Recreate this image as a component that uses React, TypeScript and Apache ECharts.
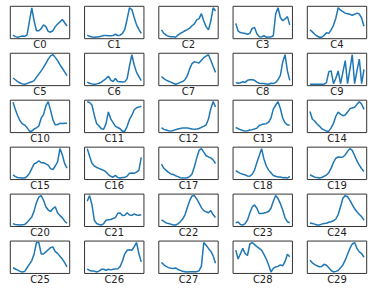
import React, { useEffect, useRef } from "react";
import * as echarts from "echarts";

// Hour-of-day style profiles, 24 points each (normalised)
const hours = Array.from({ length: 24 }, (_, i) => i);
const panelNames = Array.from({ length: 30 }, (_, i) => "C" + i);

const c0 = [0.07, 0.02, 0.0, 0.02, 0.04, 0.03, 0.08, 0.55, 1.0, 0.55, 0.22, 0.22, 0.29, 0.42, 0.36, 0.2, 0.17, 0.22, 0.36, 0.45, 0.52, 0.6, 0.49, 0.38];
const c1 = [0.07, 0.03, 0.01, 0.0, 0.01, 0.02, 0.03, 0.06, 0.06, 0.05, 0.05, 0.06, 0.1, 0.06, 0.07, 0.13, 0.27, 0.62, 1.0, 0.94, 0.67, 0.42, 0.27, 0.13];
const c2 = [0.25, 0.13, 0.07, 0.03, 0.02, 0.02, 0.0, 0.07, 0.13, 0.17, 0.22, 0.26, 0.31, 0.39, 0.45, 0.59, 0.63, 0.8, 0.55, 0.36, 0.25, 0.55, 1.0, 0.89];
const c3 = [0.47, 0.21, 0.16, 0.14, 0.13, 0.1, 0.13, 0.3, 0.33, 0.12, 0.02, 0.01, 0.05, 0.0, 0.01, 0.01, 0.05, 0.79, 1.0, 0.67, 0.56, 0.62, 0.7, 0.42];
const c4 = [0.26, 0.19, 0.11, 0.05, 0.01, 0.01, 0.07, 0.16, 0.14, 0.26, 0.41, 0.65, 1.0, 0.92, 0.87, 0.82, 0.8, 0.78, 0.75, 0.78, 0.82, 0.79, 0.65, 0.38];
const c5 = [0.21, 0.15, 0.09, 0.04, 0.01, 0.0, 0.02, 0.06, 0.08, 0.12, 0.24, 0.34, 0.45, 0.57, 0.71, 0.85, 0.96, 1.0, 0.91, 0.8, 0.66, 0.54, 0.42, 0.29];
const c6 = [0.07, 0.03, 0.01, 0.0, 0.01, 0.03, 0.07, 0.13, 0.19, 0.27, 0.14, 0.09, 0.19, 0.09, 0.08, 0.07, 0.08, 0.19, 0.62, 1.0, 0.65, 0.4, 0.26, 0.12];
const c7 = [0.26, 0.19, 0.14, 0.1, 0.07, 0.03, 0.0, 0.02, 0.06, 0.09, 0.15, 0.29, 0.52, 0.7, 0.76, 0.74, 0.72, 0.81, 0.9, 0.95, 1.0, 0.81, 0.6, 0.4];
const c8 = [0.06, 0.03, 0.05, 0.08, 0.06, 0.13, 0.15, 0.15, 0.13, 0.07, 0.03, 0.02, 0.02, 0.01, 0.0, 0.03, 0.02, 0.06, 0.15, 0.3, 0.75, 1.0, 0.45, 0.13];
const c9 = [0, 0, 0, 0, 0, 0, 0, 0.05, 0.42, 0.45, 0.02, 0.2, 0.45, 0.02, 0.4, 0.8, 0.02, 0.5, 1.0, 0.02, 0.45, 0.85, 0.02, 0.5];
const c10 = [0.98, 0.74, 0.53, 0.36, 0.26, 0.22, 0.13, 0.02, 0.02, 0.09, 0.13, 0.19, 0.45, 0.57, 0.86, 1.0, 0.71, 0.4, 0.23, 0.24, 0.28, 0.27, 0.28, 0.28];
const c11 = [1.0, 0.97, 0.89, 0.55, 0.27, 0.2, 0.1, 0.08, 0.27, 0.66, 0.43, 0.3, 0.18, 0.14, 0.1, 0.02, 0.02, 0.18, 0.41, 0.55, 0.73, 0.8, 0.82, 0.85];
const c12 = [0.12, 0.06, 0.04, 0.01, 0.0, 0.02, 0.05, 0.07, 0.09, 0.11, 0.11, 0.11, 0.09, 0.07, 0.06, 0.07, 0.09, 0.13, 0.16, 0.21, 0.41, 0.76, 1.0, 0.82];
const c13 = [0.14, 0.09, 0.06, 0.03, 0.01, 0.02, 0.05, 0.06, 0.08, 0.11, 0.2, 0.23, 0.25, 0.26, 0.31, 0.45, 0.75, 0.88, 1.0, 0.77, 0.45, 0.29, 0.22, 0.22];
const c14 = [0.67, 0.41, 0.35, 0.25, 0.18, 0.09, 0.05, 0.01, 0.01, 0.12, 0.27, 0.51, 0.65, 0.58, 0.53, 0.55, 0.65, 0.76, 0.79, 0.81, 0.91, 1.0, 0.91, 0.74];
const c15 = [0.11, 0.05, 0.02, 0.01, 0.0, 0.0, 0.06, 0.16, 0.32, 0.48, 0.52, 0.59, 0.52, 0.52, 0.48, 0.44, 0.32, 0.29, 0.41, 0.55, 1.0, 0.79, 0.49, 0.34];
const c16 = [1.0, 0.74, 0.5, 0.41, 0.36, 0.33, 0.29, 0.26, 0.21, 0.12, 0.06, 0.03, 0.09, 0.02, 0.0, 0.02, 0.02, 0.07, 0.16, 0.17, 0.16, 0.2, 0.26, 0.7];
const c17 = [0.47, 0.33, 0.26, 0.19, 0.14, 0.12, 0.08, 0.05, 0.01, 0.0, 0.0, 0.01, 0.05, 0.14, 0.38, 0.67, 0.93, 0.99, 0.87, 0.75, 0.71, 0.68, 0.61, 0.49];
const c18 = [0.25, 0.2, 0.16, 0.13, 0.11, 0.07, 0.06, 0.13, 0.27, 0.53, 0.76, 1.0, 0.65, 0.41, 0.27, 0.18, 0.09, 0.06, 0.04, 0.04, 0.01, 0.02, 0.0, 0.06];
const c19 = [0.11, 0.07, 0.03, 0.02, 0.0, 0.02, 0.06, 0.1, 0.18, 0.33, 0.52, 0.66, 0.7, 0.69, 0.7, 0.77, 0.89, 0.98, 0.92, 0.75, 0.57, 0.43, 0.31, 0.22];
const c20 = [0.04, 0.02, 0.01, 0.0, 0.01, 0.02, 0.09, 0.18, 0.27, 0.48, 0.76, 0.95, 1.0, 0.84, 0.62, 0.51, 0.46, 0.56, 0.62, 0.41, 0.32, 0.25, 0.13, 0.06];
const c21 = [0.81, 1.0, 0.69, 0.17, 0.05, 0.02, 0.0, 0.05, 0.16, 0.18, 0.19, 0.22, 0.25, 0.4, 0.41, 0.32, 0.33, 0.42, 0.34, 0.33, 0.38, 0.34, 0.33, 0.35];
const c22 = [0.18, 0.13, 0.08, 0.06, 0.04, 0.01, 0.01, 0.05, 0.12, 0.21, 0.35, 0.59, 0.82, 0.98, 0.99, 0.88, 0.74, 0.59, 0.49, 0.45, 0.42, 0.49, 0.35, 0.26];
const c23 = [0.07, 0.1, 0.02, 0.0, 0.05, 0.17, 0.4, 0.6, 0.67, 0.56, 0.38, 0.38, 0.4, 0.42, 0.45, 0.56, 0.79, 0.98, 0.88, 0.71, 0.5, 0.24, 0.11, 0.07];
const c24 = [0.08, 0.06, 0.04, 0.01, 0.01, 0.04, 0.06, 0.07, 0.1, 0.12, 0.15, 0.21, 0.36, 0.62, 0.9, 0.99, 0.95, 0.83, 0.69, 0.55, 0.45, 0.36, 0.29, 0.17];
const c25 = [0.14, 0.1, 0.06, 0.02, 0.0, 0.02, 0.14, 0.26, 0.38, 0.6, 0.98, 0.98, 0.6, 0.6, 0.67, 0.74, 0.81, 0.83, 0.68, 0.62, 0.52, 0.43, 0.31, 0.17];
const c26 = [0.11, 0.06, 0.04, 0.04, 0.01, 0.04, 0.1, 0.1, 0.07, 0.1, 0.08, 0.1, 0.11, 0.12, 0.19, 0.38, 0.62, 0.74, 0.76, 0.74, 0.86, 1.0, 0.62, 0.35];
const c27 = [0.31, 0.23, 0.18, 0.14, 0.12, 0.11, 0.13, 0.08, 0.05, 0.02, 0.01, 0.0, 0.01, 0.01, 0.01, 0.01, 0.04, 0.19, 0.95, 0.86, 0.76, 0.67, 0.52, 0.28];
const c28 = [0.74, 0.44, 0.62, 0.8, 0.62, 0.56, 0.95, 1.0, 0.93, 0.86, 0.8, 0.74, 0.6, 0.44, 0.24, 0.0, 0.12, 0.17, 0.19, 0.24, 0.21, 0.36, 0.6, 0.52];
const c29 = [0.4, 0.31, 0.25, 0.21, 0.18, 0.19, 0.26, 0.23, 0.14, 0.05, 0.0, 0.02, 0.05, 0.14, 0.24, 0.4, 0.6, 0.8, 0.95, 1.0, 0.8, 0.68, 0.62, 0.5];

const allSeries = [c0, c1, c2, c3, c4, c5, c6, c7, c8, c9, c10, c11, c12, c13, c14, c15, c16, c17, c18, c19, c20, c21, c22, c23, c24, c25, c26, c27, c28, c29];

export default function App() {
  const ref = useRef<HTMLDivElement>(null);
  useEffect(() => {
    if (!ref.current) return;
    const chart = echarts.init(ref.current, null, { renderer: "svg" });
    const cols = 5;
    const left0 = 10.3, colStep = 74.25, w = 59.4;
    const top0 = 6.3, rowStep = 46.95, h = 32.4;
    const grids: any[] = [], xAxes: any[] = [], yAxes: any[] = [], series: any[] = [], titles: any[] = [];
    allSeries.forEach((vals, k) => {
      const r = Math.floor(k / cols), c = k % cols;
      const L = left0 + c * colStep, T = top0 + r * rowStep;
      grids.push({ left: L, top: T, width: w, height: h, show: true, borderColor: "#333", borderWidth: 1, backgroundColor: "#fff" });
      xAxes.push({
        type: "value", gridIndex: k, min: -1.15, max: 24.15,
        axisLine: { show: false }, axisTick: { show: false }, axisLabel: { show: false }, splitLine: { show: false },
      });
      yAxes.push({
        type: "value", gridIndex: k,
        min: (e: any) => e.min - 0.05 * (e.max - e.min),
        max: (e: any) => e.max + 0.05 * (e.max - e.min),
        axisLine: { show: false }, axisTick: { show: false }, axisLabel: { show: false }, splitLine: { show: false },
      });
      series.push({
        type: "line", xAxisIndex: k, yAxisIndex: k, showSymbol: false,
        data: hours.map((x, i) => [x, vals[i]]),
        lineStyle: { color: "#1f77b4", width: 1.5 }, itemStyle: { color: "#1f77b4" },
      });
      titles.push({
        text: panelNames[k], left: L + w / 2, top: T + h + 1, textAlign: "center",
        textStyle: { fontSize: 10, fontWeight: "normal", fontFamily: "DejaVu Sans", color: "#222" },
        padding: 0,
      });
    });
    chart.setOption({
      animation: false, backgroundColor: "#fff",
      title: titles, grid: grids, xAxis: xAxes, yAxis: yAxes, series,
    });
    return () => chart.dispose();
  }, []);
  return <div ref={ref} style={{ position: "fixed", left: 0, top: 0, width: 374, height: 294, background: "#fff" }} />;
}
